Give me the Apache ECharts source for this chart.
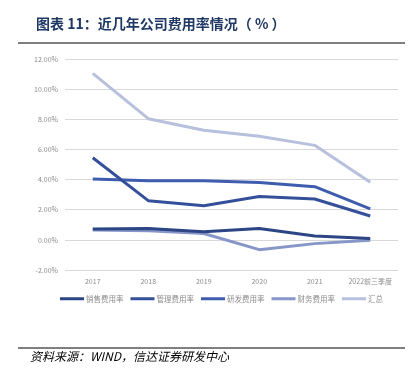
<!DOCTYPE html>
<html>
<head>
<meta charset="utf-8">
<script src="https://cdn.jsdelivr.net/npm/echarts@6/dist/echarts.min.js"></script>
<style>
  html, body { margin: 0; padding: 0; background: #fff; }
  #chart { width: 414px; height: 376px; }
</style>
</head>
<body>
<div id="chart"></div>
<script>
// Categories and series (expense ratios, %)
var years = ['2017', '2018', '2019', '2020', '2021', '2022前三季度'];
var salesRate = [0.72, 0.76, 0.54, 0.75, 0.25, 0.09];
var adminRate = [5.45, 2.6, 2.27, 2.87, 2.71, 1.58];
var rdRate = [4.04, 3.93, 3.93, 3.8, 3.53, 2.05];
var financeRate = [0.65, 0.6, 0.42, -0.65, -0.25, -0.02];
var totalRate = [11.05, 8.04, 7.27, 6.87, 6.27, 3.82];
var seriesNames = ['销售费用率', '管理费用率', '研发费用率', '财务费用率', '汇总'];
var seriesColors = ['#2C4584', '#34509A', '#3F5DAE', '#8796C8', '#B7C0DC'];

var chart = echarts.init(document.getElementById('chart'));

function makeLine(i, data) {
    return {
        name: seriesNames[i],
        type: 'line',
        data: data,
        symbol: 'none',
        color: seriesColors[i],
        lineStyle: { width: 3, color: seriesColors[i] },
        z: 10 - i
    };
}

chart.setOption({
    animation: false,
    backgroundColor: '#fff',
    textStyle: { fontFamily: '"Noto Sans CJK SC", "Noto Sans", sans-serif' },
    title: {
        text: '图表 11：近几年公司费用率情况（ % ）',
        left: 31,
        top: 12,
        textStyle: {
            fontSize: 14,
            fontWeight: 'bold',
            color: '#1F3864',
            fontFamily: '"Noto Sans CJK SC", sans-serif'
        }
    },
    graphic: [
        { type: 'line', shape: { x1: 18, y1: 43, x2: 405, y2: 43 }, style: { stroke: '#000', lineWidth: 1 } },
        { type: 'line', shape: { x1: 18, y1: 348, x2: 405, y2: 348 }, style: { stroke: '#000', lineWidth: 1 } },
        {
            type: 'text', left: 30, top: 350,
            style: {
                text: '资料来源：WIND，信达证券研发中心',
                fontSize: 12,
                fontStyle: 'italic',
                fill: '#000',
                fontFamily: '"Noto Sans CJK SC", sans-serif'
            }
        }
    ],
    legend: {
        data: seriesNames,
        top: 290,
        left: 55,
        itemWidth: 24,
        itemHeight: 3,
        itemGap: 7,
        icon: 'rect',
        textStyle: { fontSize: 7.5, color: '#8c8c8c', padding: [0, 0, 0, -3] }
    },
    grid: { left: 65, right: 16, top: 59, bottom: 106 },
    xAxis: {
        type: 'category',
        data: years,
        boundaryGap: true,
        axisLine: { show: false, onZero: true },
        axisTick: { show: false },
        axisLabel: { interval: 0, fontSize: 7, color: '#8c8c8c', margin: 8 }
    },
    yAxis: {
        type: 'value',
        min: -2,
        max: 12,
        interval: 2,
        axisLine: { show: false },
        axisTick: { show: false },
        axisLabel: {
            fontSize: 7,
            color: '#8c8c8c',
            margin: 7,
            formatter: function (v) { return v.toFixed(2) + '%'; }
        },
        splitLine: { lineStyle: { color: '#d9d9d9', width: 1 } }
    },
    series: [
        makeLine(0, salesRate),
        makeLine(1, adminRate),
        makeLine(2, rdRate),
        makeLine(3, financeRate),
        makeLine(4, totalRate)
    ]
});
</script>
</body>
</html>
